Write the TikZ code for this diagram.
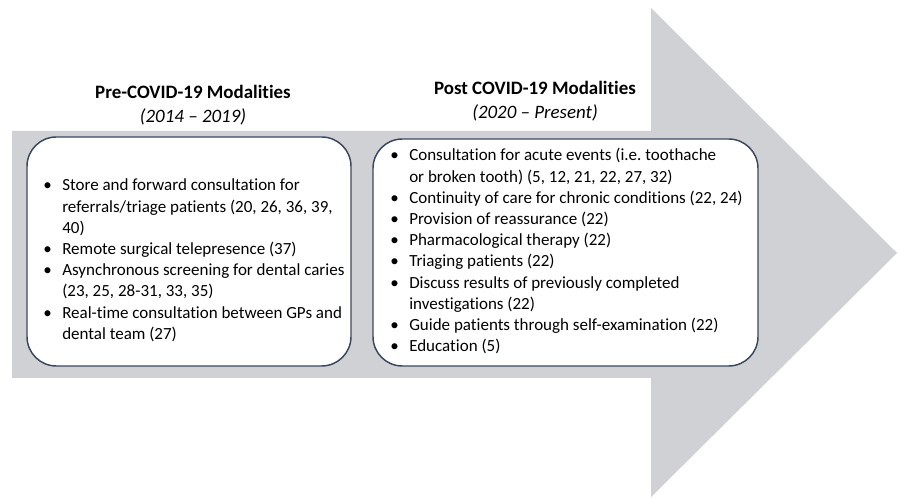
\documentclass[tikz,border=0pt]{standalone}
\usepackage{fontspec}
\setmainfont{Carlito}[Ligatures=NoCommon]
\definecolor{arrowgray}{RGB}{208,209,213}
\definecolor{boxline}{RGB}{58,72,92}
\newcommand{\bul}{\makebox[14.25pt][l]{\textbullet}}
\begin{document}\frenchspacing
\begin{tikzpicture}[x=0.75pt,y=-0.75pt,
  panel/.style={draw=boxline,line width=1.1pt,fill=white,rounded corners=22pt,inner sep=0pt},
  heading/.style={anchor=base,inner sep=0pt,font=\fontsize{14.2}{17}\selectfont\bfseries},
  period/.style={anchor=base,inner sep=0pt,font=\fontsize{14.2}{17}\selectfont\itshape},
  bullets/.style={anchor=base west,inner sep=0pt,font=\fontsize{12.75}{15.9}\selectfont}]
\useasboundingbox (0,0) rectangle (900,498);
% big background arrow
\fill[arrowgray] (12,131) -- (651,131) -- (651,8) -- (897,253) -- (651,497)
  -- (651,378) -- (12,378) -- cycle;
% rounded panels
\node[panel,minimum width=243pt,minimum height=171.75pt] (prebox) at (189,251.5) {};
\node[panel,minimum width=288.75pt,minimum height=170.25pt] (postbox) at (565.5,252.5) {};
% headings
\node[heading] (pretitle) at (193,99) {Pre-COVID-19 Modalities};
\node[period] (preyears) at (193,123) {(2014 – 2019)};
\node[heading] (posttitle) at (535,95) {Post COVID-19 Modalities};
\node[period] (postyears) at (535,119) {(2020 – Present)};
% bullet lists
\node[bullets] (prelist) at (43,191) {\begin{tabular}[t]{@{}l@{}l@{}}
\bul & Store and forward consultation for\\
     & referrals/triage patients (20, 26, 36, 39,\\
     & 40)\\
\bul & Remote surgical telepresence (37)\\
\bul & Asynchronous screening for dental caries\\
     & (23, 25, 28-31, 33, 35)\\
\bul & Real-time consultation between GPs and\\
     & dental team (27)
\end{tabular}};
\node[bullets] (postlist) at (390,161) {\begin{tabular}[t]{@{}l@{}l@{}}
\bul & Consultation for acute events (i.e. toothache\\
     & or broken tooth) (5, 12, 21, 22, 27, 32)\\
\bul & Continuity of care for chronic conditions (22, 24)\\
\bul & Provision of reassurance (22)\\
\bul & Pharmacological therapy (22)\\
\bul & Triaging patients (22)\\
\bul & Discuss results of previously completed\\
     & investigations (22)\\
\bul & Guide patients through self-examination (22)\\
\bul & Education (5)
\end{tabular}};
\end{tikzpicture}
\end{document}
